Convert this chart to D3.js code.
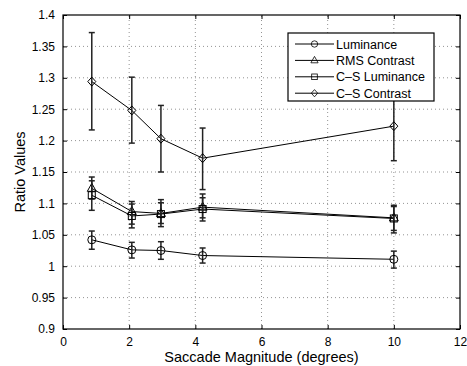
<!DOCTYPE html>
<html>
<head>
<meta charset="utf-8">
<script src="https://cdn.jsdelivr.net/npm/d3@7"></script>
<style>
  body { margin: 0; background: #fff; }
  svg text { font-family: "Liberation Sans", Arial, sans-serif; }
</style>
</head>
<body>
<div id="viz"></div>
<script>
const width = 467;
const height = 366;
const margin = {top: 15, right: 7, bottom: 37, left: 63};

// data
const saccade = [0.87, 2.08, 2.96, 4.22, 10];
const seriesNames = ['Luminance', 'RMS Contrast', 'C\u2013S Luminance', 'C\u2013S Contrast'];
const markers = ['circle', 'triangle', 'square', 'diamond'];

const lumMean = [1.042, 1.026, 1.025, 1.017, 1.011];
const lumLo   = [1.027, 1.013, 1.011, 1.005, 0.997];
const lumHi   = [1.056, 1.038, 1.039, 1.029, 1.024];

const rmsMean = [1.124, 1.087, 1.084, 1.094, 1.077];
const rmsLo   = [1.107, 1.067, 1.063, 1.072, 1.057];
const rmsHi   = [1.142, 1.103, 1.106, 1.115, 1.097];

const cslMean = [1.113, 1.080, 1.083, 1.091, 1.076];
const cslLo   = [1.089, 1.061, 1.068, 1.077, 1.053];
const cslHi   = [1.136, 1.099, 1.101, 1.109, 1.095];

const cscMean = [1.294, 1.248, 1.203, 1.172, 1.223];
const cscLo   = [1.217, 1.196, 1.150, 1.122, 1.168];
const cscHi   = [1.372, 1.301, 1.256, 1.220, 1.279];

const xTicks = [0, 2, 4, 6, 8, 10, 12];
const yTicks = [0.9, 0.95, 1, 1.05, 1.1, 1.15, 1.2, 1.25, 1.3, 1.35, 1.4];

const series = [
  {name: seriesNames[0], marker: markers[0], mean: lumMean, lo: lumLo, hi: lumHi},
  {name: seriesNames[1], marker: markers[1], mean: rmsMean, lo: rmsLo, hi: rmsHi},
  {name: seriesNames[2], marker: markers[2], mean: cslMean, lo: cslLo, hi: cslHi},
  {name: seriesNames[3], marker: markers[3], mean: cscMean, lo: cscLo, hi: cscHi}
];

const xScale = d3.scaleLinear().domain([0, 12]).range([margin.left, width - margin.right]);
const yScale = d3.scaleLinear().domain([0.9, 1.4]).range([height - margin.bottom, margin.top]);

const svg = d3.select('#viz').append('svg')
  .attr('width', width)
  .attr('height', height);

const x0 = margin.left, x1 = width - margin.right;
const y0 = height - margin.bottom, y1 = margin.top;

// grid
const grid = svg.append('g').attr('stroke', '#666').attr('stroke-width', 0.7)
  .attr('stroke-dasharray', '1,3');
grid.selectAll('.gx').data(xTicks.slice(1, -1)).join('line')
  .attr('x1', d => xScale(d)).attr('x2', d => xScale(d))
  .attr('y1', y0).attr('y2', y1);
grid.selectAll('.gy').data(yTicks.slice(1, -1)).join('line')
  .attr('y1', d => yScale(d)).attr('y2', d => yScale(d))
  .attr('x1', x0).attr('x2', x1);

// axes with inward ticks
svg.append('g')
  .attr('transform', `translate(0, ${y0})`)
  .call(d3.axisBottom(xScale).tickValues(xTicks).tickSize(-4).tickPadding(8).tickFormat(d3.format('d')))
  .call(g => g.select('.domain').remove());
svg.append('g')
  .attr('transform', `translate(0, ${y1})`)
  .call(d3.axisTop(xScale).tickValues(xTicks).tickSize(-4).tickFormat(''))
  .call(g => g.select('.domain').remove());
svg.append('g')
  .attr('transform', `translate(${x0}, 0)`)
  .call(d3.axisLeft(yScale).tickValues(yTicks).tickSize(-4).tickPadding(8).tickFormat(d => d3.format('')(+d.toFixed(2))))
  .call(g => g.select('.domain').remove());
svg.append('g')
  .attr('transform', `translate(${x1}, 0)`)
  .call(d3.axisRight(yScale).tickValues(yTicks).tickSize(-4).tickFormat(''))
  .call(g => g.select('.domain').remove());

svg.selectAll('.tick text').attr('font-size', 12).attr('fill', '#000');
svg.selectAll('.tick line').attr('stroke', '#000');

svg.append('rect')
  .attr('x', x0).attr('y', y1)
  .attr('width', x1 - x0).attr('height', y0 - y1)
  .attr('fill', 'none').attr('stroke', '#000').attr('stroke-width', 1.2);

// axis labels
svg.append('text')
  .attr('x', (x0 + x1) / 2).attr('y', height - 4)
  .attr('text-anchor', 'middle').attr('font-size', 14.5)
  .text('Saccade Magnitude (degrees)');
svg.append('text')
  .attr('transform', `translate(25, ${(y0 + y1) / 2}) rotate(-90)`)
  .attr('text-anchor', 'middle').attr('font-size', 14.5)
  .text('Ratio Values');

// marker shapes
const drawMarker = (g, type, cx, cy) => {
  const r = 4;
  if (type === 'circle') {
    g.append('circle').attr('cx', cx).attr('cy', cy).attr('r', r);
  } else if (type === 'triangle') {
    g.append('path').attr('d', `M${cx},${cy - r - 1}L${cx + r + 0.5},${cy + r - 1}L${cx - r - 0.5},${cy + r - 1}Z`);
  } else if (type === 'square') {
    g.append('rect').attr('x', cx - 3.5).attr('y', cy - 3.5).attr('width', 7).attr('height', 7);
  } else {
    g.append('path').attr('d', `M${cx},${cy - r - 0.5}L${cx + r},${cy}L${cx},${cy + r + 0.5}L${cx - r},${cy}Z`);
  }
};

const line = d3.line()
  .x((d, i) => xScale(saccade[i]))
  .y(d => yScale(d));

series.forEach(s => {
  const g = svg.append('g').attr('fill', 'none').attr('stroke', '#000').attr('stroke-width', 1);
  g.append('path').attr('d', line(s.mean));
  // error bars
  saccade.forEach((xv, i) => {
    const cx = xScale(xv);
    const eb = g.append('g').attr('stroke', '#222').attr('stroke-width', 1.5);
    eb.append('line').attr('x1', cx).attr('x2', cx).attr('y1', yScale(s.lo[i])).attr('y2', yScale(s.hi[i]));
    eb.append('line').attr('x1', cx - 3).attr('x2', cx + 3).attr('y1', yScale(s.lo[i])).attr('y2', yScale(s.lo[i]));
    eb.append('line').attr('x1', cx - 3).attr('x2', cx + 3).attr('y1', yScale(s.hi[i])).attr('y2', yScale(s.hi[i]));
    drawMarker(g, s.marker, cx, yScale(s.mean[i]));
  });
});

// legend
const lg = svg.append('g');
const lx = 288, ly = 33, lw = 146, lh = 68;
lg.append('rect').attr('x', lx).attr('y', ly).attr('width', lw).attr('height', lh)
  .attr('fill', '#fff').attr('stroke', '#000').attr('stroke-width', 1.2);
series.forEach((s, i) => {
  const yy = ly + 11 + i * 16.4;
  const g = lg.append('g').attr('fill', 'none').attr('stroke', '#000');
  g.append('line').attr('x1', lx + 7).attr('x2', lx + 46).attr('y1', yy).attr('y2', yy);
  const m = g.append('g');
  drawMarker(m, s.marker, lx + 26.5, yy);
  m.selectAll('*').attr('transform', `translate(${lx + 26.5},${yy}) scale(0.8) translate(${-(lx + 26.5)},${-yy})`);
  lg.append('text').attr('x', lx + 48).attr('y', yy + 4.5)
    .attr('font-size', 12.5).text(s.name);
});
</script>
</body>
</html>
